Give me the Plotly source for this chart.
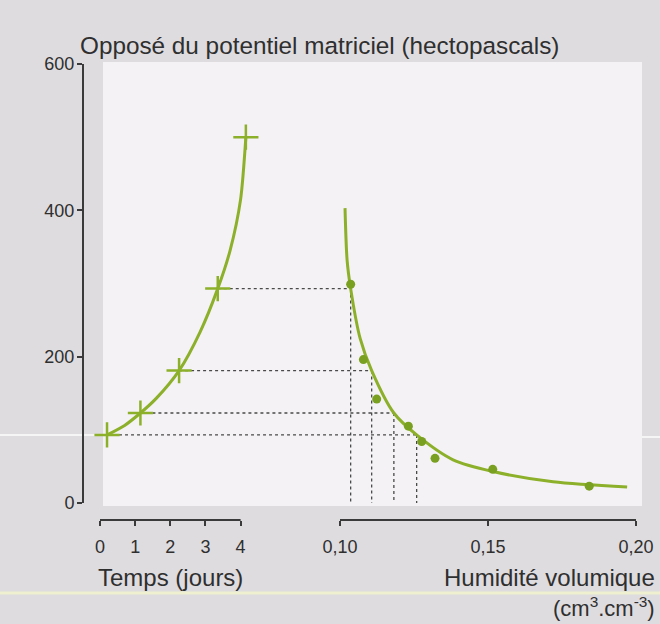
import plotly.graph_objects as go

# ---------------- data ----------------
time_days = [0.2, 1.15, 2.25, 3.35, 4.15]          # crosses (jours)
time_vals = [93, 123, 181, 293, 500]                # hPa

time_curve_days = [0.2, 0.7, 1.15, 1.6, 2.25, 2.85, 3.35, 3.7, 4.0, 4.15]
time_curve_vals = [93, 106, 123, 143, 181, 234, 293, 345, 415, 500]

hum_pts_x = [0.1036, 0.1079, 0.1124, 0.1231, 0.1276, 0.1321, 0.1516, 0.1842]
hum_pts_y = [299, 196, 142, 105, 84, 61, 46, 23]

hum_curve_x = [0.1017, 0.1024, 0.1036, 0.1068, 0.1107, 0.1182, 0.1259, 0.1382, 0.1517, 0.1720, 0.1970]
hum_curve_y = [403, 332, 293, 225, 181, 123, 93, 59, 43, 29, 22]

# correspondence lines (time cross -> humidity on curve)
guide_days = [0.2, 1.15, 2.25, 3.35]
guide_vals = [93, 123, 181, 293]
guide_hum = [0.1259, 0.1182, 0.1107, 0.1036]

y_ticks = [0, 200, 400, 600]
t_ticks = [0, 1, 2, 3, 4]
t_ticktext = ["0", "1", "2", "3", "4"]
h_ticks = [0.10, 0.15, 0.20]
h_ticktext = ["0,10", "0,15", "0,20"]

# ---------------- layout constants ----------------
W, H = 660, 624
X_DOMAIN = [100 / W, 640 / W]
TIME_RANGE = [0, 540 / 35.15]
HUM_RANGE = [0.10 - 240 / 2960, 0.10 + 300 / 2960]
Y_DOMAIN = [(H - 503) / H, (H - 64) / H]
Y_RANGE = [0, 600]
XAXIS_POS = (H - 520) / H
YAXIS_POS = 83 / W

GREEN = "#8cb02a"
GREEN_DOT = "#7aa021"
AXIS = "#3a3a3a"
TXT = "#2f2f2f"
FONT = "Liberation Sans, Arial, sans-serif"


def hum_to_time(h):
    """Express a humidity value in time-axis units (both axes share one domain)."""
    f = (h - HUM_RANGE[0]) / (HUM_RANGE[1] - HUM_RANGE[0])
    return TIME_RANGE[0] + f * (TIME_RANGE[1] - TIME_RANGE[0])


fig = go.Figure()

fig.add_trace(go.Scatter(x=time_curve_days, y=time_curve_vals, mode="lines",
                         line=dict(color=GREEN, width=3, shape="spline", smoothing=0.7),
                         xaxis="x", yaxis="y", hoverinfo="skip"))
fig.add_trace(go.Scatter(x=time_days, y=time_vals, mode="markers",
                         marker=dict(symbol="cross-thin", size=18,
                                     line=dict(color=GREEN, width=2.5)),
                         xaxis="x", yaxis="y", cliponaxis=False))
fig.add_trace(go.Scatter(x=hum_curve_x, y=hum_curve_y, mode="lines",
                         line=dict(color=GREEN, width=3, shape="spline", smoothing=0.8),
                         xaxis="x2", yaxis="y", hoverinfo="skip"))
fig.add_trace(go.Scatter(x=hum_pts_x, y=hum_pts_y, mode="markers",
                         marker=dict(symbol="circle", size=9, color=GREEN_DOT),
                         xaxis="x2", yaxis="y"))

shapes = []
# light panel
shapes.append(dict(type="rect", xref="paper", yref="paper",
                   x0=103 / W, x1=642 / W, y0=(H - 506) / H, y1=(H - 62) / H,
                   fillcolor="#f4f2f5", line=dict(width=0), layer="below"))
# scan artefacts
shapes.append(dict(type="line", xref="paper", yref="paper", x0=0, x1=103 / W,
                   y0=(H - 435) / H, y1=(H - 435) / H,
                   line=dict(color="#f6f5f6", width=2), layer="below"))
shapes.append(dict(type="line", xref="paper", yref="paper", x0=642 / W, x1=1,
                   y0=(H - 437) / H, y1=(H - 437) / H,
                   line=dict(color="#f6f5f6", width=2), layer="below"))
shapes.append(dict(type="line", xref="paper", yref="paper", x0=0, x1=1,
                   y0=(H - 593) / H, y1=(H - 593) / H,
                   line=dict(color="#eef0cf", width=3), layer="below"))

# axis lines of the two x scales
shapes.append(dict(type="line", xref="x", yref="paper", x0=t_ticks[0], x1=t_ticks[-1],
                   y0=XAXIS_POS, y1=XAXIS_POS, line=dict(color=AXIS, width=2)))
shapes.append(dict(type="line", xref="x2", yref="paper", x0=h_ticks[0], x1=h_ticks[-1],
                   y0=XAXIS_POS, y1=XAXIS_POS, line=dict(color=AXIS, width=2)))

# dashed guide lines
for d, v, h in zip(guide_days, guide_vals, guide_hum):
    shapes.append(dict(type="line", xref="x", yref="y", x0=d, x1=hum_to_time(h),
                       y0=v, y1=v, line=dict(color="#4a4a4a", width=1.3, dash="3px,3px"),
                       layer="below"))
    shapes.append(dict(type="line", xref="x2", yref="y", x0=h, x1=h,
                       y0=v, y1=0, line=dict(color="#4a4a4a", width=1.3, dash="3px,3px"),
                       layer="below"))

annotations = [
    dict(text="Opposé du potentiel matriciel (hectopascals)", xref="paper", yref="paper",
         x=78 / W, y=(H - 46) / H, xanchor="left", yanchor="middle", showarrow=False,
         font=dict(size=24.3, color=TXT, family=FONT)),
    dict(text="Temps (jours)", xref="paper", yref="paper",
         x=96 / W, y=(H - 577) / H, xanchor="left", yanchor="middle", showarrow=False,
         font=dict(size=24, color=TXT, family=FONT)),
    dict(text="Humidité volumique", xref="paper", yref="paper",
         x=657 / W, y=(H - 577) / H, xanchor="right", yanchor="middle", showarrow=False,
         font=dict(size=24, color=TXT, family=FONT)),
    dict(text="(cm<sup>3</sup>.cm<sup>-3</sup>)", xref="paper", yref="paper",
         x=657 / W, y=(H - 607) / H, xanchor="right", yanchor="middle", showarrow=False,
         font=dict(size=22, color=TXT, family=FONT)),
]

tickfont = dict(size=18, color=TXT, family=FONT)
common_x = dict(anchor="free", position=XAXIS_POS, showgrid=False, zeroline=False,
                showline=False, tickwidth=2, tickcolor=AXIS, ticklen=5, fixedrange=True,
                automargin=False)

fig.update_layout(
    width=W, height=H,
    margin=dict(l=0, r=0, t=0, b=0, autoexpand=False),
    paper_bgcolor="#dedcdf",
    plot_bgcolor="rgba(0,0,0,0)",
    showlegend=False,
    font=dict(family=FONT, color=TXT),
    shapes=shapes,
    annotations=annotations,
    xaxis=dict(domain=X_DOMAIN, range=TIME_RANGE, tickmode="array", tickvals=t_ticks,
               ticktext=t_ticktext, ticks="outside", tickfont=tickfont,
               ticklabelstandoff=5, **common_x),
    xaxis3=dict(overlaying="x", range=TIME_RANGE, tickmode="array", tickvals=t_ticks,
                ticks="inside", showticklabels=False, **common_x),
    xaxis2=dict(overlaying="x", range=HUM_RANGE, tickmode="array", tickvals=h_ticks,
                ticktext=h_ticktext, ticks="outside", tickfont=tickfont,
                ticklabelstandoff=5, **common_x),
    xaxis4=dict(overlaying="x", range=HUM_RANGE, tickmode="array", tickvals=h_ticks,
                ticks="inside", showticklabels=False, **common_x),
    yaxis=dict(domain=Y_DOMAIN, range=Y_RANGE, anchor="free", position=YAXIS_POS,
               tickmode="array", tickvals=y_ticks, ticks="outside", ticklen=5,
               tickwidth=2, tickcolor=AXIS, showline=True, linecolor=AXIS, linewidth=2,
               showgrid=False, zeroline=False, tickfont=tickfont, ticklabelstandoff=-1,
               fixedrange=True, automargin=False),
    yaxis2=dict(overlaying="y", range=Y_RANGE, anchor="free", position=YAXIS_POS,
                tickmode="array", tickvals=y_ticks, ticks="inside", ticklen=5,
                tickwidth=2, tickcolor=AXIS, showticklabels=False, showline=False,
                showgrid=False, zeroline=False, fixedrange=True, automargin=False),
)

fig.write_html("out.html", config={"displayModeBar": False},
               post_script="document.body.style.margin='0px';")
